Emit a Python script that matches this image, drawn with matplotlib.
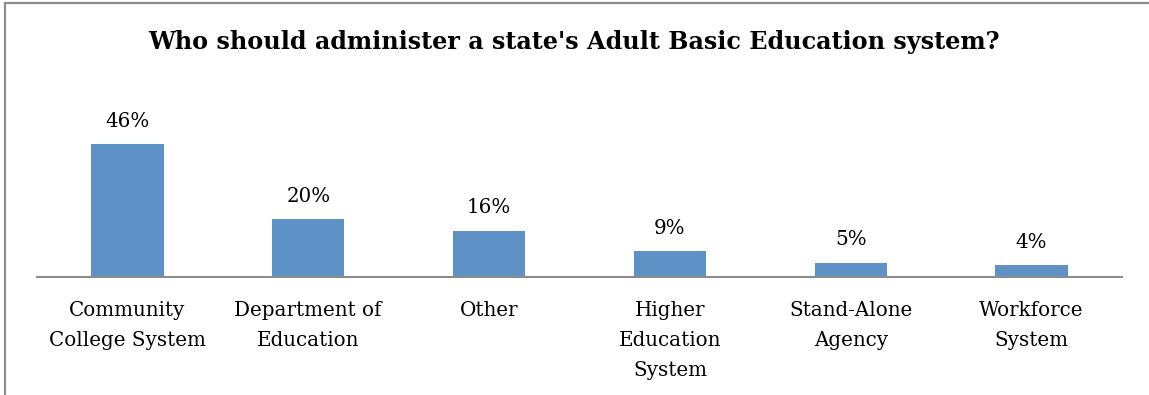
import matplotlib.pyplot as plt
from matplotlib.lines import Line2D

categories = ["Community\nCollege System", "Department of\nEducation", "Other",
              "Higher\nEducation\nSystem", "Stand-Alone\nAgency", "Workforce\nSystem"]
values = [46, 20, 16, 9, 5, 4]

W, H = 1149, 395
plt.rcParams['font.family'] = ['DejaVu Serif']
fig = plt.figure(figsize=(W / 100, H / 100), dpi=100)

# plot area: axis line at y=277px, from x=37 to x=1122
left, right, base = 37, 1122, 277
top = base - 50 * 2.89
ax = fig.add_axes([left / W, (H - base) / H, (right - left) / W, (base - top) / H])

x = range(len(categories))
bars = ax.bar(x, values, width=0.4, color='#5E92C7')
ax.set_xlim(-0.5, len(categories) - 0.5)
ax.set_ylim(0, 50)

for b, v in zip(bars, values):
    ax.annotate(f"{v}%", (b.get_x() + b.get_width() / 2, v), xytext=(0, 12.5),
                textcoords='offset points', ha='center', va='baseline', fontsize=14.3)

ax.set_xticks(list(x))
ax.set_xticklabels(categories, fontsize=14.3, linespacing=1.72, va='top')
ax.tick_params(axis='x', length=0, pad=17.5)
ax.set_yticks([])
for s in ['top', 'right', 'left']:
    ax.spines[s].set_visible(False)
ax.spines['bottom'].set_color('#8c8c8c')
ax.spines['bottom'].set_linewidth(1.5)

fig.text(0.5, 1 - 49 / H, "Who should administer a state's Adult Basic Education system?",
         ha='center', va='baseline', fontsize=17.2, fontweight='bold')

# chart frame (top and left edges)
fig.add_artist(Line2D([5 / W, 1], [1 - 3 / H, 1 - 3 / H], color='#8c8c8c', lw=1.6))
fig.add_artist(Line2D([5 / W, 5 / W], [0, 1 - 3 / H], color='#8c8c8c', lw=1.6))

fig.savefig('out.png', dpi=100)
